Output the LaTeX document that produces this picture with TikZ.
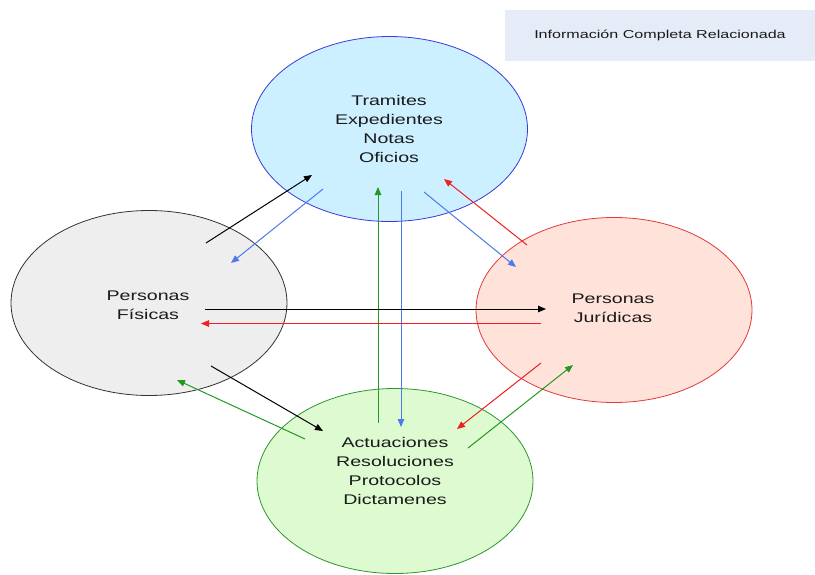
\documentclass[tikz,border=0pt]{standalone}
\usepackage{fontspec}
\setmainfont[FakeStretch=1.4]{Liberation Sans}
\usetikzlibrary{shapes.geometric,arrows.meta}
\definecolor{topfill}{HTML}{CCF0FF}
\definecolor{topdraw}{HTML}{3A3AD8}
\definecolor{leftfill}{HTML}{EEEEEE}
\definecolor{leftdraw}{HTML}{333333}
\definecolor{rightfill}{HTML}{FFE2DA}
\definecolor{rightdraw}{HTML}{E03A3A}
\definecolor{botfill}{HTML}{DDFAD0}
\definecolor{botdraw}{HTML}{2E962E}
\definecolor{hdrfill}{HTML}{E6ECF7}
\definecolor{ablue}{HTML}{4A7AEE}
\definecolor{agreen}{HTML}{229A22}
\definecolor{ared}{HTML}{EE2020}
\definecolor{txt}{HTML}{1A1A1A}
\tikzset{
  blob/.style={ellipse, minimum width=276pt, minimum height=185pt, inner sep=0pt, line width=0.8pt},
  lbl/.style={align=center, font=\fontsize{14}{19}\selectfont, text=txt, inner sep=0pt},
  conn/.style={line width=1pt, -{Triangle[length=8pt,width=6.5pt]}},
}
\begin{document}
\begin{tikzpicture}[x=1pt,y=-1pt]
\useasboundingbox (0,0) rectangle (815,574);
% header
\node[fill=hdrfill, minimum width=310pt, minimum height=51pt, inner sep=0pt,
      font=\fontsize{11.5}{14}\selectfont, text=txt] (hdr) at (660,35.5) {Información Completa Relacionada};
% ellipses
\node[blob, fill=topfill, draw=topdraw] (top) at (389.5,129) {};
\node[blob, fill=leftfill, draw=leftdraw] (left) at (149,303) {};
\node[blob, fill=rightfill, draw=rightdraw] (right) at (614,310) {};
\node[blob, fill=botfill, draw=botdraw] (bot) at (395,481) {};
% texts
\node[lbl] (toptext) at (389,128.5) {Tramites\\Expedientes\\Notas\\Oficios};
\node[lbl] (lefttext) at (148,305.5) {Personas\\Físicas};
\node[lbl] (righttext) at (613,308.5) {Personas\\Jurídicas};
\node[lbl] (bottext) at (395,470.5) {Actuaciones\\Resoluciones\\Protocolos\\Dictamenes};
% arrow end points
\coordinate (a1s) at (206,243);  \coordinate (a1e) at (312,175);
\coordinate (a2s) at (323,189);  \coordinate (a2e) at (231,263);
\coordinate (a3s) at (378,423);  \coordinate (a3e) at (378,187);
\coordinate (a4s) at (401,191);  \coordinate (a4e) at (401,427);
\coordinate (a5s) at (424,192);  \coordinate (a5e) at (516,267);
\coordinate (a6s) at (527,245);  \coordinate (a6e) at (444,179);
\coordinate (a7s) at (205,309);  \coordinate (a7e) at (546,309);
\coordinate (a8s) at (541,323.5);  \coordinate (a8e) at (201,323.5);
\coordinate (a9s) at (211,366);  \coordinate (a9e) at (323,431);
\coordinate (a10s) at (305,439); \coordinate (a10e) at (177,380);
\coordinate (a11s) at (541,363); \coordinate (a11e) at (457,429);
\coordinate (a12s) at (468,448); \coordinate (a12e) at (573,365);
% arrows
\draw[conn, black] (a1s) -- (a1e);
\draw[conn, ablue] (a2s) -- (a2e);
\draw[conn, agreen] (a3s) -- (a3e);
\draw[conn, ablue] (a4s) -- (a4e);
\draw[conn, ablue] (a5s) -- (a5e);
\draw[conn, ared] (a6s) -- (a6e);
\draw[conn, black] (a7s) -- (a7e);
\draw[conn, ared] (a8s) -- (a8e);
\draw[conn, black] (a9s) -- (a9e);
\draw[conn, agreen] (a10s) -- (a10e);
\draw[conn, ared] (a11s) -- (a11e);
\draw[conn, agreen] (a12s) -- (a12e);
\end{tikzpicture}
\end{document}
